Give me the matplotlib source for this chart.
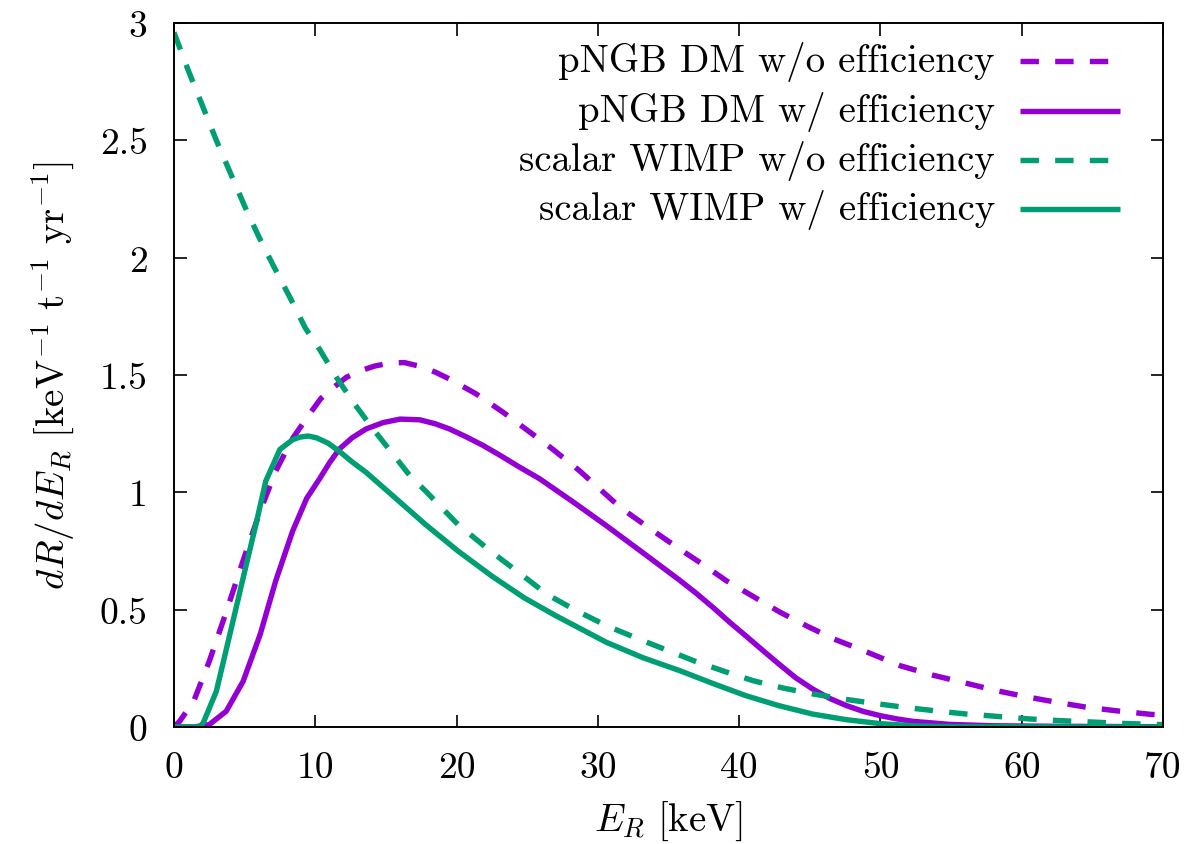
import numpy as np
import matplotlib
matplotlib.use('Agg')
import matplotlib.pyplot as plt
from matplotlib.ticker import FuncFormatter, MultipleLocator

plt.rcParams['font.family'] = 'serif'
plt.rcParams['font.serif'] = ['cmr10']
plt.rcParams['mathtext.fontset'] = 'cm'
plt.rcParams['axes.formatter.use_mathtext'] = True

PURPLE = '#9400d3'
GREEN = '#009e73'

# pNGB DM, no detector efficiency
pngb_noeff_x = [0, 0.4, 1.4, 2.5, 3.7, 4.9, 6.1, 7.2, 8.4, 9.6, 10.4, 11.3, 12.2, 13.2, 14.2, 15.3,
                16.3, 17.4, 18.5, 19.5, 21.4, 23.3, 25.2, 26.8, 28.7, 31.6, 33.7, 35.8, 37.5,
                39.1, 41.0, 42.9, 44.8, 46.7, 48.7, 51.4, 53.7, 56.1, 58.2, 60.3, 62.5, 64.6,
                66.7, 69.1, 70]
pngb_noeff_y = [0, 0.024, 0.11, 0.28, 0.49, 0.71, 0.92, 1.09, 1.23, 1.334, 1.40, 1.447, 1.49, 1.518,
                1.538, 1.551, 1.553, 1.537, 1.512, 1.483, 1.419, 1.341, 1.256, 1.184, 1.092, 0.935,
                0.845, 0.758, 0.69, 0.623, 0.556, 0.489, 0.43, 0.375, 0.328, 0.261, 0.221, 0.186,
                0.155, 0.129, 0.105, 0.084, 0.069, 0.054, 0.050]

# pNGB DM, with efficiency
pngb_eff_x = [0, 1.4, 2.5, 3.7, 4.9, 6.1, 7.2, 8.4, 9.4, 10.3, 11.0, 11.7, 12.6, 13.6, 14.8, 16.0,
              17.4, 18.5, 19.5, 20.7, 21.9, 23.1, 24.3, 25.9, 28.3, 30.6, 33.2, 35.8, 37.0, 38.2,
              39.3, 40.5, 41.7, 42.9, 44.0, 45.2, 46.4, 47.6, 48.8, 50.0, 51.2, 52.3, 54.9,
              58.0, 62.0, 70]
pngb_eff_y = [0, 0, 0.01, 0.067, 0.195, 0.394, 0.622, 0.835, 0.975, 1.057, 1.125, 1.184, 1.232, 1.27,
              1.297, 1.312, 1.309, 1.292, 1.27, 1.236, 1.199, 1.157, 1.113, 1.057, 0.957, 0.858,
              0.742, 0.625, 0.568, 0.507, 0.448, 0.387, 0.325, 0.264, 0.21, 0.162, 0.122, 0.091,
              0.066, 0.048, 0.034, 0.024, 0.011, 0.005, 0.003, 0.001]

# scalar WIMP, no efficiency
wimp_noeff_x = [0, 1, 2, 3, 4, 5, 6, 7, 8.3, 9.3, 10.3, 11.5, 12.7, 14.0, 15.4, 16.7, 17.8, 20.1,
                22.5, 24.8, 26.4, 28.5, 30.6, 33.0, 35.3, 36.8, 39.0, 41.0, 43.1, 45.2, 47.4,
                49.5, 51.8, 54.0, 56.1, 58.5, 60.6, 62.7, 65.0, 67.2, 69.3, 70]
wimp_noeff_y = [2.96, 2.80, 2.65, 2.50, 2.36, 2.22, 2.09, 1.97, 1.82, 1.70, 1.61, 1.49, 1.383, 1.277,
                1.17, 1.071, 1.006, 0.863, 0.745, 0.64, 0.565, 0.495, 0.432, 0.372, 0.318, 0.282,
                0.236, 0.197, 0.166, 0.141, 0.119, 0.101, 0.083, 0.068, 0.055, 0.044, 0.034, 0.027,
                0.021, 0.015, 0.011, 0.010]

# scalar WIMP, with efficiency
wimp_eff_x = [0, 1.8, 2.07, 3.0, 3.9, 4.9, 5.8, 6.5, 7.5, 8.4, 8.9, 9.5, 10.1, 10.9, 11.7, 12.6,
              13.6, 15.4, 17.8, 20.1, 22.5, 24.8, 27.0, 30.6, 33.2, 35.8, 38.2, 40.5, 42.8, 45.2,
              47.6, 50.0, 52.6, 55.0, 70]
wimp_eff_y = [0, 0, 0.017, 0.152, 0.38, 0.636, 0.863, 1.048, 1.183, 1.224, 1.235, 1.24, 1.232, 1.21,
              1.175, 1.13, 1.085, 0.99, 0.863, 0.75, 0.643, 0.55, 0.475, 0.361, 0.295, 0.24, 0.184,
              0.133, 0.091, 0.055, 0.031, 0.014, 0.004, 0.001, 0]

labels = ['pNGB DM w/o efficiency', 'pNGB DM w/ efficiency',
          'scalar WIMP w/o efficiency', 'scalar WIMP w/ efficiency']

series = [(pngb_noeff_x, pngb_noeff_y, PURPLE, True),
          (pngb_eff_x, pngb_eff_y, PURPLE, False),
          (wimp_noeff_x, wimp_noeff_y, GREEN, True),
          (wimp_eff_x, wimp_eff_y, GREEN, False)]

fig = plt.figure(figsize=(11.89, 8.45), dpi=100)
ax = fig.add_axes([0.1463, 0.1385, 0.8318, 0.8331])

lw = 3.9
dash = (0, (3.4, 3.0))
for (x, y, c, dashed), lab in zip(series, labels):
    ax.plot(np.array(x), np.array(y), color=c, lw=lw,
            linestyle=dash if dashed else '-', solid_capstyle='butt',
            dash_capstyle='butt', solid_joinstyle='round')

# gnuplot-like key: right-aligned text, sample line on the right
for i, ((x, y, c, dashed), lab) in enumerate(zip(series, labels)):
    yy = 0.946 - i * 0.0703
    ax.text(0.830, yy, lab, transform=ax.transAxes, ha='right', va='center', fontsize=28)
    ax.plot([0.855, 0.957], [yy, yy], transform=ax.transAxes, color=c, lw=lw,
            linestyle=dash if dashed else '-', solid_capstyle='butt', dash_capstyle='butt')

ax.set_xlim(0, 70)
ax.set_ylim(0, 3)
ax.xaxis.set_major_locator(MultipleLocator(10))
ax.yaxis.set_major_locator(MultipleLocator(0.5))
fmt = FuncFormatter(lambda v, p: '%g' % v)
ax.xaxis.set_major_formatter(fmt)
ax.yaxis.set_major_formatter(fmt)
ax.tick_params(direction='in', top=True, right=True, length=9, width=1.2,
               labelsize=27, pad=19)
ax.tick_params(axis='x', pad=17)
for s in ax.spines.values():
    s.set_linewidth(1.4)

ax.set_xlabel(r'$E_R\ [\mathrm{keV}]$', fontsize=28, labelpad=11)
ax.set_ylabel(r'$dR/dE_R\ [\mathrm{keV}^{-1}\ \mathrm{t}^{-1}\ \mathrm{yr}^{-1}]$', fontsize=28, labelpad=16)

fig.savefig('out.png', dpi=100)
